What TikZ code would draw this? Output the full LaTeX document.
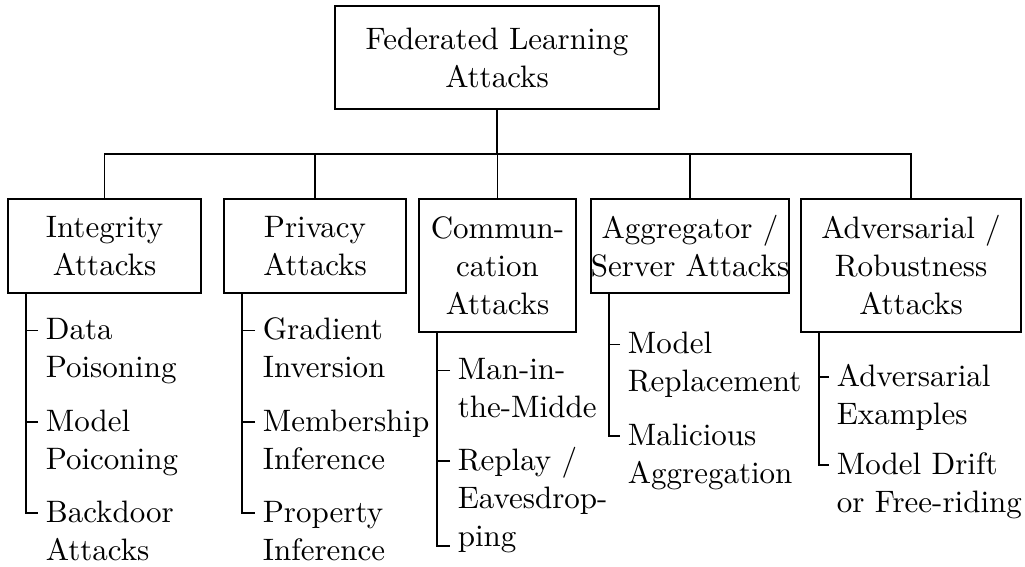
\documentclass[tikz,border=0pt]{standalone}
\usepackage{fontspec}
\setmainfont{lmroman10-regular}[Extension=.otf]
\begin{document}
\begin{tikzpicture}[x=1pt, y=-1pt, line width=1.7pt,
  every node/.style={font=\fontsize{31}{38}\selectfont, inner sep=0pt},
  box/.style={draw, align=center},
  leaf/.style={align=left, anchor=base west}]
\useasboundingbox (0,0) rectangle (1025,567);

% root and first-level categories
\node[box, minimum width=324pt, minimum height=103pt] (root) at (497,57.5) {Federated Learning\\Attacks};
\node[box, minimum width=193pt, minimum height=94pt]  (int)  at (104.5,246) {Integrity\\Attacks};
\node[box, minimum width=182pt, minimum height=94pt]  (priv) at (315,246)   {Privacy\\Attacks};
\node[box, minimum width=157pt, minimum height=133pt] (comm) at (497.5,265.5) {Commun-\\cation\\Attacks};
\node[box, minimum width=197pt, minimum height=94pt]  (agg)  at (690,246)   {Aggregator /\\Server Attacks};
\node[box, minimum width=220pt, minimum height=133pt] (adv)  at (911,265.5) {Adversarial /\\Robustness\\Attacks};

% bus from the root to the categories
\coordinate (bus) at (497,154);
\draw (root.south) -- (bus);
\draw (int.north) |- (bus) -| (adv.north);
\draw (priv.north) -- (priv.north |- bus);
\draw (comm.north) -- (comm.north |- bus);
\draw (agg.north) -- (agg.north |- bus);

% leaves (placed by the baseline of their last line)
\node[leaf] (i1) at (45,377.5) {Data\\Poisoning};
\node[leaf] (i2) at (45,469)   {Model\\Poiconing};
\node[leaf] (i3) at (45,560)   {Backdoor\\Attacks};

\node[leaf] (p1) at (262,377.5) {Gradient\\Inversion};
\node[leaf] (p2) at (262,469)   {Membership\\Inference};
\node[leaf] (p3) at (262,560)   {Property\\Inference};

\node[leaf] (c1) at (457,417.5) {Man-in-\\the-Midde};
\node[leaf] (c2) at (457,546)   {Replay /\\Eavesdrop-\\ping};

\node[leaf] (a1) at (627,391.5) {Model\\Replacement};
\node[leaf] (a2) at (627,483)   {Malicious\\Aggregation};

\node[leaf] (d1) at (836,424) {Adversarial\\Examples};
\node[leaf] (d2) at (836,512) {Model Drift\\or Free-riding};

% folder-style stems
\coordinate (iv) at ([xshift=19pt]int.south west);
\coordinate (pv) at ([xshift=19pt]priv.south west);
\coordinate (cv) at ([xshift=19pt]comm.south west);
\coordinate (av) at ([xshift=19pt]agg.south west);
\coordinate (dv) at ([xshift=19pt]adv.south west);

\foreach \n in {i1,i2,i3,p1,p2,p3,c1,a1,a2,d1,d2}
  \coordinate (t\n) at ([shift={(-7,-47)}]\n.base west);
\coordinate (tc2) at ([shift={(-7,-85)}]c2.base west);
\coordinate (tc3) at ([shift={(-7,0)}]c2.base west);

\draw (iv) |- (ti3);
\draw (ti1) -- (ti1 -| iv);
\draw (ti2) -- (ti2 -| iv);

\draw (pv) |- (tp3);
\draw (tp1) -- (tp1 -| pv);
\draw (tp2) -- (tp2 -| pv);

\draw (cv) |- (tc3);
\draw (tc1) -- (tc1 -| cv);
\draw (tc2) -- (tc2 -| cv);

\draw (av) |- (ta2);
\draw (ta1) -- (ta1 -| av);

\draw (dv) |- (td2);
\draw (td1) -- (td1 -| dv);
\end{tikzpicture}
\end{document}
